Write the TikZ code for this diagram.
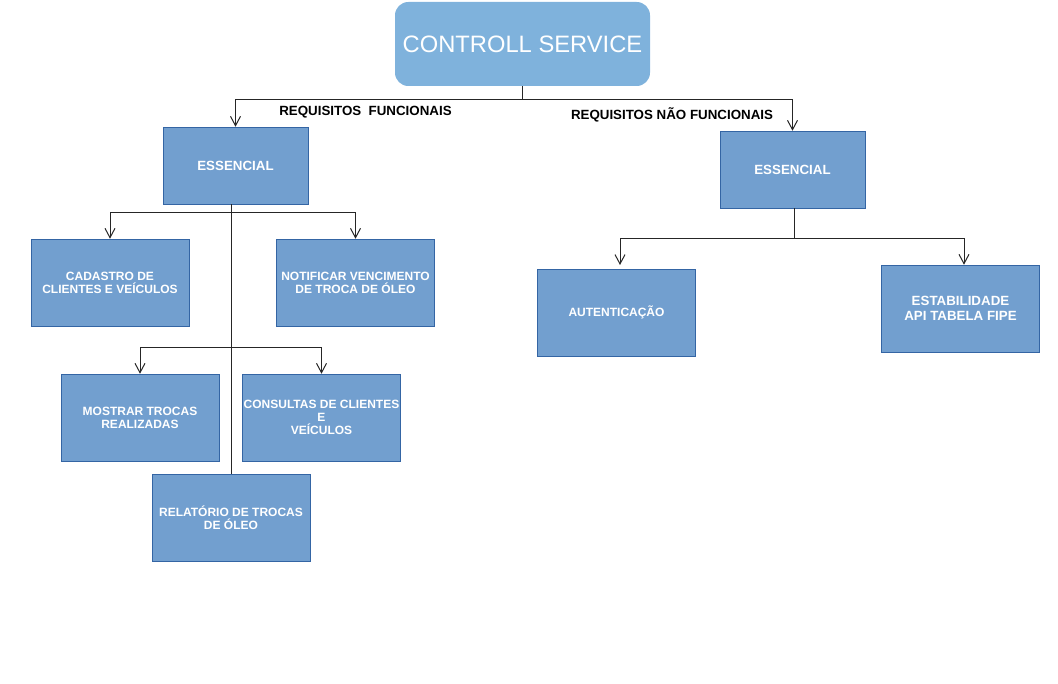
\documentclass[tikz,border=0pt]{standalone}
\usepackage{fontspec}
\setmainfont{Liberation Sans}
\usetikzlibrary{positioning,arrows.meta}
\definecolor{azul}{HTML}{729FCF}
\definecolor{azulclaro}{HTML}{7FB2DC}
\definecolor{borda}{HTML}{3465A4}
\tikzset{caixa/.style={rectangle,draw=borda,fill=azul,text=white,align=center,inner sep=0pt,
            font=\bfseries\fontsize{9}{9.9}\selectfont,minimum width=118.5pt,minimum height=65.25pt},
            ess/.style={caixa,font=\bfseries\fontsize{10}{11}\selectfont,minimum width=108.75pt,minimum height=57.75pt},
            rotulo/.style={font=\bfseries\fontsize{10}{11}\selectfont,inner sep=0pt},
            seta/.style={-{Straight Barb[length=7pt,width=7.5pt]},line width=0.75pt,draw=black!85}}

\begin{document}
\begin{tikzpicture}[x=0.75pt,y=-0.75pt]
\useasboundingbox (0,0) rectangle (1058,684);
\node[rectangle,rounded corners=10pt,fill=azulclaro,text=white,minimum width=191.25pt,minimum height=63pt,
      font=\fontsize{17.8}{20}\selectfont] at (522.5,44)(top){CONTROLL SERVICE};
\node[ess] at (235.5,165.5)(essL){ESSENCIAL};
\node[ess] at (792.5,169.5)(essR){ESSENCIAL};
\node[caixa] at (110,282.5)(cad){CADASTRO DE\\CLIENTES E VEÍCULOS};
\node[caixa] at (355.5,282.5)(notif){NOTIFICAR VENCIMENTO\\DE TROCA DE ÓLEO};
\node[caixa] at (140,417.5)(most){MOSTRAR TROCAS\\REALIZADAS};
\node[caixa] at (321.5,417.5)(cons){CONSULTAS DE CLIENTES\\E\\VEÍCULOS};
\node[caixa] at (231,517.5)(rel){RELATÓRIO DE TROCAS\\DE ÓLEO};
\node[caixa] at (616.5,312.5)(aut){AUTENTICAÇÃO};
\node[caixa,font=\bfseries\fontsize{10}{11.25}\selectfont] at (960.5,308.5)(est){ESTABILIDADE\\API TABELA FIPE};
\node[rotulo] at (365.5,112.5)(rf){REQUISITOS\ \ FUNCIONAIS};
\node[rotulo] at (672,114.5)(rnf){REQUISITOS NÃO FUNCIONAIS};
\coordinate (r1) at (top.south |- 0,100);
\coordinate (r2) at (rel.north |- 0,213);
\coordinate (r3) at (rel.north |- 0,348);
\coordinate (r4) at (794,239);
\draw[seta,-] (top.south) -- (r1);
\draw[seta] (r1) -| (essL.north);
\draw[seta] (r1) -| (essR.north);
\draw[seta,-] (essL.south -| rel.north) -- (rel.north);
\draw[seta] (r2) -| (cad.north);
\draw[seta] (r2) -| (notif.north);
\draw[seta] (r3) -| (most.north);
\draw[seta] (r3) -| (cons.north);
\draw[seta,-] (essR.south -| r4) -- (r4);
\draw[seta] (r4) -| (620,265);
\draw[seta] (r4) -| (est.north -| 964,0);
\end{tikzpicture}
\end{document}
